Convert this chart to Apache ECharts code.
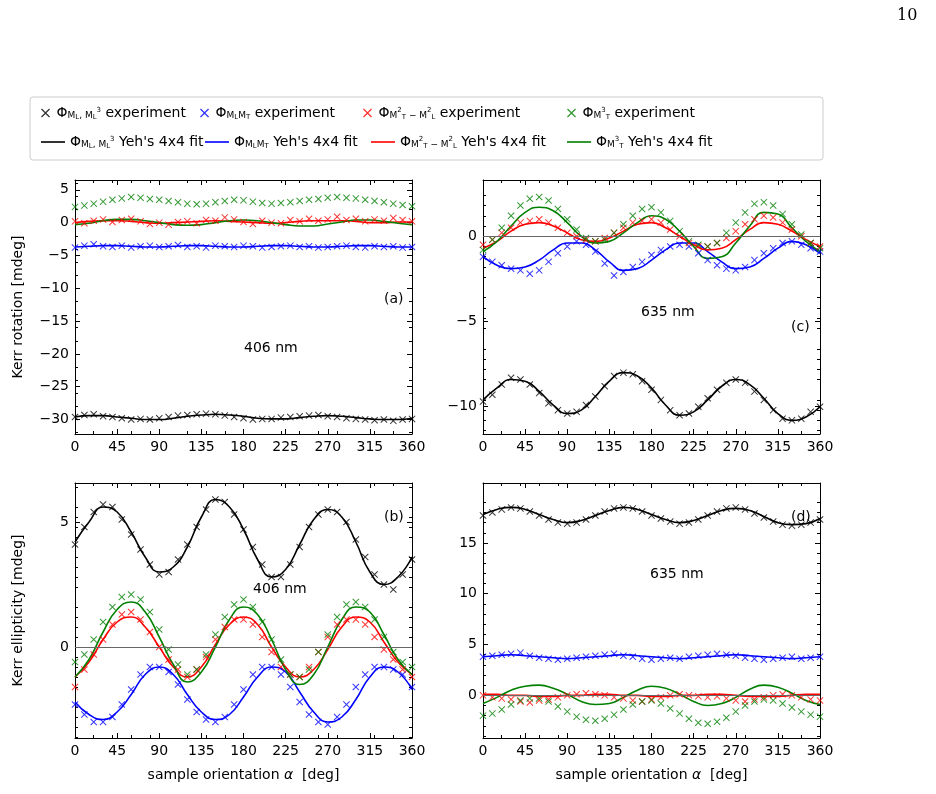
<!DOCTYPE html>
<html><head><meta charset="utf-8">
<script src="https://cdn.jsdelivr.net/npm/echarts@6/dist/echarts.min.js"></script>
<style>html,body{margin:0;padding:0;background:#fff}#c{width:936px;height:794px}</style>
</head><body><div id="c"></div>
<script>
const xExp = [0,10,20,30,40,50,60,70,80,90,100,110,120,130,140,150,160,170,180,190,200,210,220,230,240,250,260,270,280,290,300,310,320,330,340,350,360];
const xFit = [0,15,30,45,60,75,90,105,120,135,150,165,180,195,210,225,240,255,270,285,300,315,330,345,360];

// Panel (a)
const a_blk_e=[-29.6,-29.3,-29.2,-29.5,-29.6,-29.8,-30.0,-29.9,-30.0,-29.8,-29.6,-29.4,-29.3,-29.2,-29.1,-29.2,-29.4,-29.6,-29.8,-30.0,-29.9,-29.9,-29.7,-29.6,-29.5,-29.4,-29.3,-29.5,-29.6,-29.8,-29.9,-30.0,-30.1,-30.0,-30.2,-30.0,-29.9];
const a_blk_f=[-29.6,-29.4,-29.4,-29.6,-29.8,-30.0,-30.0,-29.8,-29.5,-29.3,-29.2,-29.3,-29.5,-29.8,-29.9,-29.9,-29.7,-29.5,-29.4,-29.5,-29.7,-29.9,-30.0,-30.0,-29.8];
const a_blu_e=[-3.8,-3.5,-3.3,-3.6,-3.7,-3.5,-3.8,-3.6,-3.5,-3.7,-3.6,-3.4,-3.7,-3.6,-3.8,-3.5,-3.6,-3.7,-3.5,-3.6,-3.8,-3.7,-3.6,-3.5,-3.7,-3.6,-3.8,-3.7,-3.6,-3.5,-3.7,-3.8,-3.6,-3.7,-3.6,-3.8,-3.7];
const a_blu_f=[-3.7,-3.6,-3.5,-3.5,-3.6,-3.7,-3.7,-3.6,-3.5,-3.5,-3.6,-3.7,-3.7,-3.6,-3.5,-3.5,-3.6,-3.7,-3.7,-3.6,-3.5,-3.5,-3.6,-3.7,-3.7];
const a_red_e=[0.2,-0.1,0.3,0.5,0.1,0.4,0.6,0.2,-0.2,0.0,-0.3,0.1,0.2,-0.1,0.4,0.3,0.8,0.5,0.1,-0.2,0.3,0.0,-0.1,0.4,0.2,0.6,0.3,0.5,0.9,0.4,0.6,0.2,0.5,0.3,0.7,0.4,0.2];
const a_red_f=[0.0,0.2,0.3,0.3,0.2,0.0,-0.1,0.0,0.1,0.2,0.3,0.2,0.1,0.0,-0.1,0.0,0.2,0.3,0.3,0.3,0.2,0.0,0.0,0.1,0.1];
const a_grn_e=[2.4,2.6,2.9,3.2,3.5,3.7,3.9,3.8,3.6,3.5,3.3,3.1,2.9,2.8,2.9,3.1,3.3,3.5,3.4,3.2,3.0,2.9,3.0,3.1,3.3,3.5,3.6,3.8,3.9,3.8,3.7,3.5,3.3,3.1,2.9,2.7,2.5];
const a_grn_f=[-0.3,-0.1,0.3,0.5,0.5,0.3,0.0,-0.3,-0.4,-0.3,0.0,0.3,0.4,0.3,0.0,-0.3,-0.5,-0.5,-0.2,0.1,0.4,0.4,0.2,-0.1,-0.3];

// Panel (c)
const c_blk_e=[-9.7,-9.3,-8.7,-8.3,-8.4,-8.7,-9.2,-9.8,-10.2,-10.4,-10.3,-9.9,-9.4,-8.8,-8.2,-8.0,-8.1,-8.5,-9.0,-9.6,-10.2,-10.5,-10.4,-10.0,-9.5,-9.0,-8.6,-8.4,-8.6,-9.1,-9.6,-10.2,-10.7,-10.8,-10.7,-10.3,-10.0];
const c_blk_f=[-9.6,-8.9,-8.4,-8.5,-9.1,-9.9,-10.4,-10.2,-9.4,-8.5,-8.0,-8.2,-8.9,-9.9,-10.5,-10.3,-9.6,-8.8,-8.4,-8.7,-9.5,-10.4,-10.8,-10.6,-10.0];
const c_blu_e=[-1.2,-1.5,-1.7,-1.9,-2.0,-2.2,-2.0,-1.5,-1.0,-0.6,-0.3,-0.5,-0.9,-1.6,-2.3,-2.1,-1.8,-1.5,-1.1,-0.8,-0.6,-0.5,-0.6,-1.0,-1.4,-1.7,-1.9,-2.0,-1.8,-1.4,-1.0,-0.7,-0.4,-0.3,-0.5,-0.7,-0.9];
const c_blu_f=[-1.2,-1.7,-1.9,-1.8,-1.4,-0.8,-0.4,-0.4,-0.8,-1.5,-2.0,-1.9,-1.4,-0.8,-0.4,-0.4,-0.9,-1.5,-1.9,-1.8,-1.3,-0.7,-0.3,-0.5,-1.0];
const c_red_e=[-0.5,-0.2,0.2,0.5,0.8,0.9,1.0,0.8,0.5,0.2,0.0,-0.2,-0.3,-0.1,0.2,0.5,0.8,0.9,1.0,0.8,0.4,0.0,-0.4,-0.6,-0.6,-0.4,-0.1,0.3,0.7,1.0,1.2,1.1,0.8,0.4,0.0,-0.4,-0.6];
const c_red_f=[-0.7,-0.3,0.3,0.7,0.8,0.6,0.2,-0.2,-0.3,-0.1,0.3,0.7,0.8,0.5,0.0,-0.5,-0.8,-0.7,-0.2,0.4,0.8,0.7,0.3,-0.2,-0.6];
const c_grn_e=[-0.8,-0.2,0.5,1.2,1.8,2.2,2.3,2.1,1.6,1.0,0.4,-0.1,-0.3,-0.2,0.2,0.7,1.2,1.6,1.7,1.4,0.9,0.3,-0.3,-0.5,-0.6,-0.4,0.2,0.8,1.4,1.9,2.0,1.8,1.3,0.7,0.1,-0.4,-0.7];
const c_grn_f=[-0.9,-0.3,0.6,1.4,1.7,1.5,0.8,0.0,-0.4,-0.3,0.2,0.8,1.2,1.0,0.3,-0.6,-1.3,-1.2,-0.4,0.6,1.4,1.3,0.5,-0.3,-0.9];

// Panel (b)
const b_blk_e=[4.1,4.8,5.4,5.7,5.6,5.1,4.5,3.9,3.3,2.9,3.0,3.5,4.1,4.8,5.5,5.9,5.8,5.3,4.7,4.0,3.3,2.8,2.8,3.3,4.0,4.8,5.3,5.5,5.4,5.0,4.3,3.6,2.9,2.5,2.3,2.9,3.5];
const b_blk_f=[4.2,5.0,5.6,5.4,4.6,3.6,3.0,3.2,4.0,5.2,5.9,5.6,4.7,3.5,2.8,3.1,4.1,5.1,5.5,5.2,4.2,3.0,2.5,2.8,3.6];
const b_blu_e=[-2.3,-2.7,-3.0,-3.0,-2.8,-2.3,-1.7,-1.1,-0.8,-0.8,-1.0,-1.5,-2.1,-2.6,-2.9,-3.0,-2.8,-2.3,-1.7,-1.1,-0.8,-0.8,-1.1,-1.6,-2.2,-2.7,-3.0,-3.1,-2.8,-2.3,-1.6,-1.1,-0.8,-0.8,-0.9,-1.1,-1.6];
const b_blu_f=[-2.2,-2.7,-2.9,-2.6,-1.9,-1.1,-0.8,-1.1,-1.9,-2.6,-2.9,-2.7,-2.0,-1.2,-0.8,-1.0,-1.8,-2.6,-3.0,-2.8,-2.1,-1.2,-0.8,-1.0,-1.7];
const b_red_e=[-1.6,-0.9,-0.3,0.3,0.9,1.3,1.4,1.1,0.6,0.0,-0.5,-0.9,-1.2,-0.9,-0.4,0.3,0.8,1.1,1.1,0.9,0.4,-0.2,-0.8,-1.1,-1.2,-0.8,-0.2,0.4,0.9,1.1,1.1,0.9,0.4,-0.1,-0.5,-0.9,-1.2];
const b_red_f=[-1.2,-0.6,0.3,1.0,1.2,0.8,0.0,-0.8,-1.2,-0.8,0.1,0.9,1.2,0.9,0.0,-0.8,-1.2,-0.9,-0.1,0.8,1.2,1.0,0.2,-0.6,-1.1];
const b_grn_e=[-0.6,-0.3,0.3,1.0,1.6,2.0,2.1,1.9,1.4,0.7,-0.1,-0.7,-1.1,-0.9,-0.3,0.5,1.2,1.7,1.9,1.6,1.0,0.3,-0.5,-1.1,-1.2,-0.9,-0.2,0.5,1.2,1.7,1.8,1.6,1.1,0.4,-0.2,-0.6,-0.8];
const b_grn_f=[-1.2,-0.5,0.6,1.5,1.8,1.4,0.4,-0.7,-1.4,-1.0,0.0,1.1,1.6,1.3,0.3,-0.9,-1.5,-1.1,0.0,1.1,1.6,1.4,0.5,-0.5,-1.1];

// Panel (d)
const d_blk_e=[17.7,18.0,18.3,18.5,18.4,18.1,17.7,17.3,17.0,16.9,17.0,17.3,17.7,18.1,18.4,18.5,18.4,18.1,17.7,17.4,17.1,16.9,17.0,17.3,17.7,18.1,18.4,18.5,18.3,17.9,17.5,17.1,16.8,16.7,16.8,17.0,17.3];
const d_blk_f=[17.8,18.3,18.5,18.3,17.8,17.3,17.0,17.2,17.7,18.2,18.5,18.3,17.8,17.3,17.0,17.2,17.7,18.2,18.4,18.2,17.6,17.0,16.8,16.9,17.4];
const d_blu_e=[3.8,3.9,4.0,4.1,4.2,3.9,3.7,3.6,3.5,3.6,3.7,3.8,3.9,4.0,4.1,3.9,3.8,3.6,3.5,3.6,3.7,3.6,3.8,3.9,4.0,4.1,4.0,3.9,3.7,3.6,3.5,3.6,3.7,3.8,3.6,3.7,3.8];
const d_blu_f=[3.8,3.9,4.0,3.9,3.8,3.7,3.6,3.7,3.8,3.9,4.0,3.9,3.8,3.7,3.6,3.7,3.8,3.9,4.0,3.9,3.8,3.7,3.6,3.7,3.8];
const d_red_e=[0.0,-0.2,-0.3,-0.4,-0.6,-0.7,-0.5,-0.4,-0.2,0.0,0.1,0.2,0.1,0.0,-0.2,-0.3,-0.5,-0.6,-0.4,-0.2,0.0,0.1,0.0,-0.1,-0.2,-0.1,-0.3,-0.5,-0.6,-0.4,-0.2,0.0,0.1,0.0,-0.2,-0.4,-0.5];
const d_red_f=[0.1,0.1,0.0,0.0,-0.1,-0.1,0.0,0.0,0.1,0.1,0.0,0.0,-0.1,-0.1,0.0,0.0,0.1,0.1,0.0,-0.1,-0.1,-0.1,0.0,0.1,0.1];
const d_grn_e=[-2.0,-1.8,-1.4,-0.9,-0.5,-0.3,-0.3,-0.6,-1.1,-1.6,-2.1,-2.4,-2.5,-2.3,-1.9,-1.4,-0.9,-0.6,-0.5,-0.8,-1.3,-1.8,-2.3,-2.7,-2.8,-2.6,-2.2,-1.6,-1.0,-0.6,-0.4,-0.5,-0.8,-1.2,-1.6,-1.9,-2.1];
const d_grn_f=[-0.8,-0.2,0.5,0.9,1.0,0.7,0.1,-0.6,-0.9,-0.8,-0.2,0.5,0.9,0.7,0.1,-0.6,-1.0,-0.8,-0.2,0.6,1.0,0.8,0.2,-0.5,-0.9];

const xTicks=[0,45,90,135,180,225,270,315,360];
const yTicksA=[-30,-25,-20,-15,-10,-5,0,5];
const yTicksC=[-10,-5,0];
const yTicksB=[0,5];
const yTicksD=[0,5,10,15];

const names=['e1','e2','e3','e4','f1','f2','f3','f4'];
const colors={1:'#000000',2:'#0000ff',3:'#ff0000',4:'#008000'};
const labelText={
 e1:'{p|Φ}{s|M}{ss|L}{s|, M}{ss|L}{su|3} experiment',
 e2:'{p|Φ}{s|M}{ss|L}{s|M}{ss|T} experiment',
 e3:'{p|Φ}{s|M}{su|2}{ss|T}{s| − M}{su|2}{ss|L} experiment',
 e4:'{p|Φ}{s|M}{su|3}{ss|T} experiment',
 f1:"{p|Φ}{s|M}{ss|L}{s|, M}{ss|L}{su|3} Yeh's 4x4 fit",
 f2:"{p|Φ}{s|M}{ss|L}{s|M}{ss|T} Yeh's 4x4 fit",
 f3:"{p|Φ}{s|M}{su|2}{ss|T}{s| − M}{su|2}{ss|L} Yeh's 4x4 fit",
 f4:"{p|Φ}{s|M}{su|3}{ss|T} Yeh's 4x4 fit"
};
const cross='path://M0,1L1,0L5,4L9,0L10,1L6,5L10,9L9,10L5,6L1,10L0,9L4,5Z';
const F='DejaVu Sans';
const rich={p:{fontFamily:F,fontSize:14,color:'#000'},s:{fontFamily:F,fontSize:9,color:'#000',padding:[6,0,0,0]},ss:{fontFamily:F,fontSize:7,color:'#000',padding:[9,0,0,0]},su:{fontFamily:F,fontSize:7,color:'#000',padding:[0,0,6,0]}};

const panels=[
 {grid:{left:75,top:180,width:337,height:254},min:-32.2,max:6.5,yt:yTicksA,zero:false,
  d:[a_blk_e,a_blu_e,a_red_e,a_grn_e],f:[a_blk_f,a_blu_f,a_red_f,a_grn_f]},
 {grid:{left:483,top:180,width:337,height:254},min:-11.6,max:3.3,yt:yTicksC,zero:true,
  d:[c_blk_e,c_blu_e,c_red_e,c_grn_e],f:[c_blk_f,c_blu_f,c_red_f,c_grn_f]},
 {grid:{left:75,top:483,width:337,height:255},min:-3.64,max:6.56,yt:yTicksB,zero:true,
  d:[b_blk_e,b_blu_e,b_red_e,b_grn_e],f:[b_blk_f,b_blu_f,b_red_f,b_grn_f]},
 {grid:{left:483,top:483,width:337,height:255},min:-4.2,max:20.9,yt:yTicksD,zero:true,
  d:[d_blk_e,d_blu_e,d_red_e,d_grn_e],f:[d_blk_f,d_blu_f,d_red_f,d_grn_f]}
];
const grids=[],xAxes=[],yAxes=[],series=[];
const axLine={onZero:false,lineStyle:{color:'#000',width:1}};
const mt={show:true,splitNumber:5,length:3,lineStyle:{color:'#000'}};
panels.forEach((p,i)=>{
 grids.push(p.grid);
 const xb={type:'value',gridIndex:i,min:0,max:360,position:'bottom',
  axisLine:axLine,splitLine:{show:false},
  axisTick:{inside:true,length:5,customValues:xTicks,lineStyle:{color:'#000'}},
  minorTick:mt,
  axisLabel:{customValues:xTicks,fontFamily:F,fontSize:14,color:'#000',margin:6}};
 if(i>=2){xb.name='sample orientation {i|α}  [deg]';xb.nameLocation='middle';xb.nameGap=30;
  xb.nameTextStyle={fontFamily:F,fontSize:14,color:'#000',rich:{i:{fontFamily:F,fontSize:14,fontStyle:'italic',color:'#000'}}};}
 xAxes.push(xb);
 xAxes.push({type:'value',gridIndex:i,min:0,max:360,position:'top',axisLine:axLine,splitLine:{show:false},
  axisTick:{inside:true,length:5,customValues:xTicks,lineStyle:{color:'#000'}},
  minorTick:mt,axisLabel:{show:false}});
 const yl={type:'value',gridIndex:i,min:p.min,max:p.max,position:'left',axisLine:axLine,splitLine:{show:false},
  axisTick:{inside:true,length:5,customValues:p.yt,lineStyle:{color:'#000'}},minorTick:mt,
  axisLabel:{customValues:p.yt,fontFamily:F,fontSize:14,color:'#000',margin:6,formatter:v=>String(v).replace('-','−')}};
 if(i===0){yl.name='Kerr rotation [mdeg]';}
 if(i===2){yl.name='Kerr ellipticity [mdeg]';}
 if(yl.name){yl.nameLocation='middle';yl.nameGap=50;yl.nameTextStyle={fontFamily:F,fontSize:14,color:'#000'};}
 yAxes.push(yl);
 yAxes.push({type:'value',gridIndex:i,min:p.min,max:p.max,position:'right',axisLine:axLine,splitLine:{show:false},
  axisTick:{inside:true,length:5,customValues:p.yt,lineStyle:{color:'#000'}},minorTick:mt,axisLabel:{show:false}});
 for(let k=0;k<4;k++){
  const c=colors[k+1];
  const fs={name:'f'+(k+1),type:'line',xAxisIndex:2*i,yAxisIndex:2*i,smooth:0.5,showSymbol:false,symbol:'none',
   data:xFit.map((x,j)=>[x,p.f[k][j]]),lineStyle:{color:c,width:1.6},itemStyle:{color:c},z:3};
  if(k===0&&p.zero){fs.markLine={silent:true,symbol:'none',label:{show:false},
    lineStyle:{color:'#666',width:1,type:'solid'},data:[{yAxis:0}]};}
  series.push(fs);
  series.push({name:'e'+(k+1),type:'scatter',xAxisIndex:2*i,yAxisIndex:2*i,symbol:cross,symbolSize:7,
   data:xExp.map((x,j)=>[x,p.d[k][j]]),itemStyle:{color:c},z:4});
 }
});

const legendLeftE=[36,195,358,562];
const legendLeftF=[36,200,366,562];
const legends=names.map((n,j)=>({
 data:[n],left:j<4?legendLeftE[j]:legendLeftF[j-4],top:j<4?101:130,itemWidth:j<4?12:24,itemHeight:j<4?9:14,itemGap:4,
 formatter:nm=>labelText[nm],textStyle:{fontFamily:F,fontSize:14,color:'#000',rich:rich},
 selectedMode:false
}));
legends.forEach((l,j)=>{ if(j>=4){ l.icon='path://M0,6L30,6L30,8L0,8Z'; } });

const txt=(x,y,t)=>({type:'text',left:x,top:y,style:{text:t,font:'14px "DejaVu Sans"',fill:'#000'}});
const option={
 animation:false,
 grid:grids,xAxis:xAxes,yAxis:yAxes,series:series,legend:legends,
 graphic:[
  {type:'rect',shape:{x:30,y:97,width:793,height:63,r:3},style:{fill:'none',stroke:'#ccc',lineWidth:1}},
  {type:'text',left:897,top:8,style:{text:'10',font:'16px "DejaVu Serif"',fill:'#000'}},
  txt(384,292,'(a)'),txt(244,341,'406 nm'),
  txt(791,320,'(c)'),txt(641,305,'635 nm'),
  txt(384,510,'(b)'),txt(253,582,'406 nm'),
  txt(791,510,'(d)'),txt(650,567,'635 nm')
 ]
};
echarts.init(document.getElementById('c')).setOption(option);
</script></body></html>
